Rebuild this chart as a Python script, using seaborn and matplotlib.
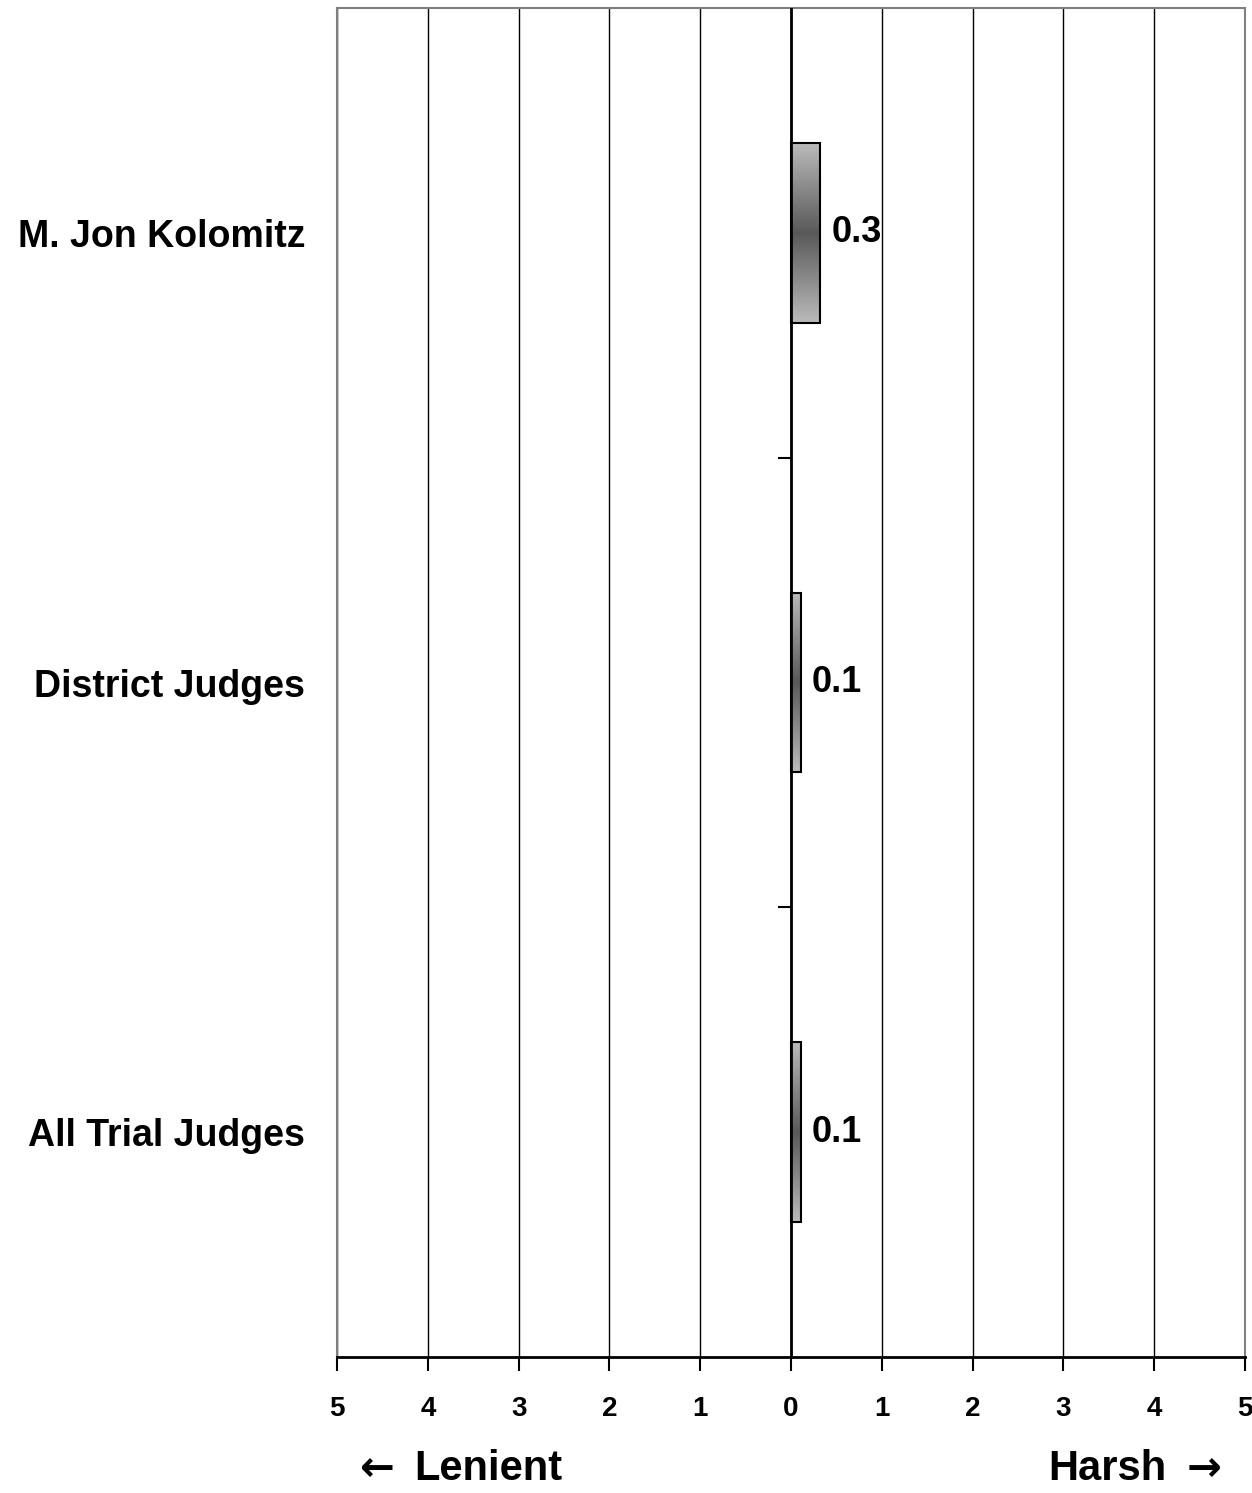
import numpy as np
import pandas as pd
import matplotlib
matplotlib.use("Agg")
import matplotlib.pyplot as plt
import seaborn as sns

# data
judges = ["M. Jon Kolomitz", "District Judges", "All Trial Judges"]
scores = [0.32, 0.11, 0.11]
score_labels = ["0.3", "0.1", "0.1"]
tick_values = [-5, -4, -3, -2, -1, 0, 1, 2, 3, 4, 5]
tick_labels = ["5", "4", "3", "2", "1", "0", "1", "2", "3", "4", "5"]

sns.set_theme(style="white")
plt.rcParams["font.family"] = ["Liberation Sans", "DejaVu Sans"]
plt.rcParams["font.weight"] = "bold"
plt.rcParams["text.color"] = "black"
plt.rcParams["xtick.color"] = "black"
plt.rcParams["ytick.color"] = "black"

df = pd.DataFrame({"Judge": judges, "Score": scores})

fig = plt.figure(figsize=(12.52, 14.93), dpi=100)
ax = fig.add_axes([0.2692, 0.0911, 0.7252, 0.9035])

sns.barplot(data=df, x="Score", y="Judge", orient="h", width=0.4,
            color="0.6", edgecolor="black", linewidth=1.5, ax=ax)

# gradient fill: light grey at the edges, dark in the middle
grad = np.abs(np.linspace(-1, 1, 256)).reshape(-1, 1)
for p in ax.patches:
    x0, y0 = p.get_x(), p.get_y()
    w, h = p.get_width(), p.get_height()
    p.set_facecolor("none")
    im = ax.imshow(grad, cmap="gray", vmin=-0.92, vmax=1.71, aspect="auto",
                   extent=[x0, x0 + w, y0 + h, y0], zorder=p.get_zorder() - 0.1,
                   interpolation="bilinear")
    im.set_clip_path(p)

ax.set_xlim(-5, 5)
ax.set_ylim(2.5, -0.5)
ax.set_xticks(tick_values)
ax.set_xticklabels(tick_labels, fontsize=20, fontweight="bold")
ax.tick_params(axis="x", direction="out", length=10, width=1.5, color="black",
               pad=18, bottom=True)
ax.set_yticks(range(len(judges)))
ax.set_yticklabels(judges, fontsize=27, fontweight="bold")
ax.tick_params(axis="y", length=0, pad=23)
ax.set_xlabel("")
ax.set_ylabel("")

# vertical grid
for v in tick_values:
    ax.axvline(v, color="black", linewidth=1.0, zorder=0)
ax.axvline(0, color="black", linewidth=2, zorder=3)
ax.hlines([0.5, 1.5], -0.14, 0, color="black", linewidth=1.5, zorder=3)

for side in ["left", "right", "top"]:
    ax.spines[side].set_color("0.5")
    ax.spines[side].set_linewidth(1.5)
ax.spines["bottom"].set_color("black")
ax.spines["bottom"].set_linewidth(2)

# value labels
for p, lab in zip(ax.patches, score_labels):
    ax.annotate(lab, (p.get_x() + p.get_width(), p.get_y() + p.get_height() / 2),
                xytext=(8, 0), textcoords="offset points", va="center", ha="left",
                fontsize=26, fontweight="bold", zorder=5)

# direction labels
fig.text(0.2875, 0.016, "\u2190", fontsize=30, fontweight="bold",
         family="DejaVu Sans", ha="left", va="center")
fig.text(0.331, 0.016, "Lenient", fontsize=30, fontweight="bold",
         ha="left", va="center")
fig.text(0.932, 0.016, "Harsh", fontsize=30, fontweight="bold",
         ha="right", va="center")
fig.text(0.976, 0.016, "\u2192", fontsize=30, fontweight="bold",
         family="DejaVu Sans", ha="right", va="center")

fig.savefig("out.png", dpi=100)
